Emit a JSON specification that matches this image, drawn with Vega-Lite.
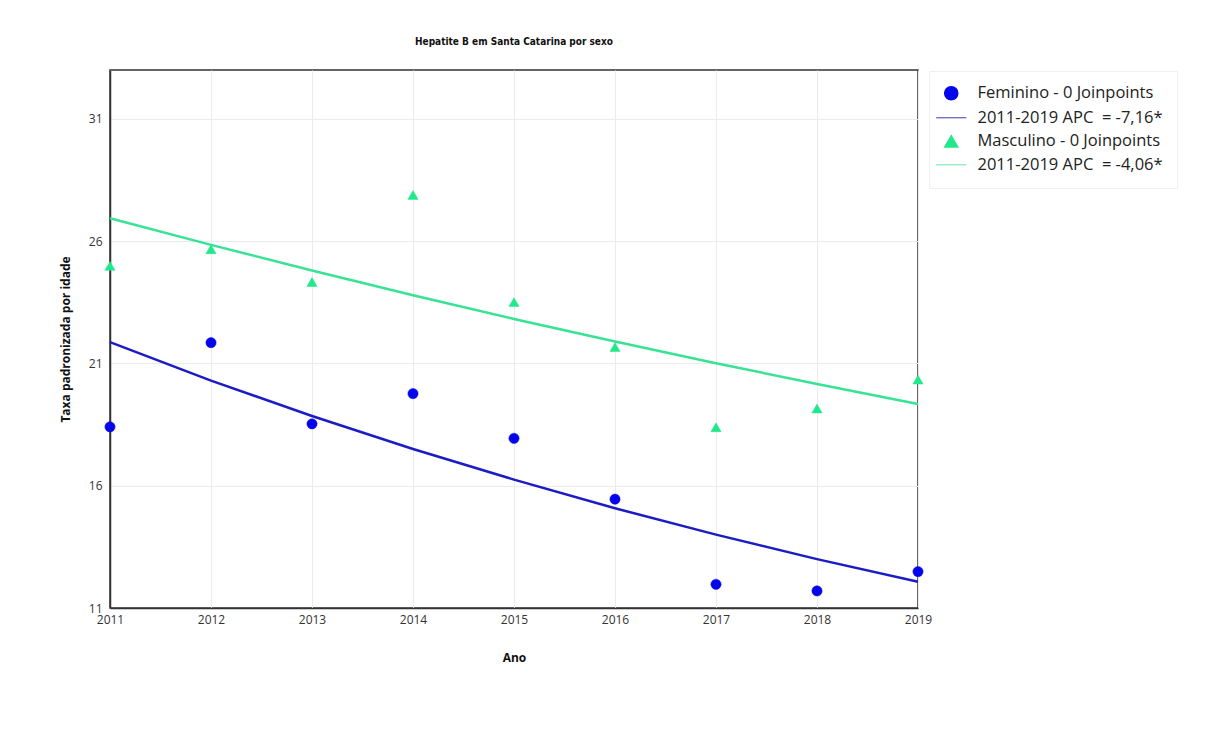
{
  "$schema": "https://vega.github.io/schema/vega-lite/v6.json",
  "autosize": {"type": "none"},
  "width": 808,
  "height": 538,
  "padding": {"left": 110, "top": 70, "right": 301, "bottom": 123},
  "background": "white",
  "title": {
    "text": "Hepatite B em Santa Catarina por sexo",
    "anchor": "middle",
    "font": "DejaVu Sans Condensed, Open Sans",
    "fontSize": 10,
    "fontWeight": "bold",
    "color": "#111",
    "offset": 23
  },
  "config": {
    "font": "Open Sans",
    "view": {"stroke": "#333", "strokeWidth": 1.5},
    "axis": {
      "labelFont": "Open Sans",
      "labelFontSize": 12,
      "labelColor": "#333",
      "titleFont": "Open Sans",
      "titleFontSize": 12,
      "titleFontWeight": "bold",
      "titleColor": "#111",
      "gridColor": "#ebebeb",
      "gridWidth": 1,
      "ticks": false,
      "domainColor": "#333",
      "domainWidth": 1.5
    },
    "legend": {
      "title": null,
      "orient": "none",
      "legendX": 819,
      "legendY": 1,
      "padding": 14,
      "strokeColor": "#f0f0f0",
      "symbolSize": 180,
      "symbolStrokeWidth": 1.2,
      "rowPadding": 6.5,
      "labelOffset": 18,
      "labelFont": "Open Sans",
      "labelFontSize": 16.5,
      "labelColor": "#222",
      "labelLimit": 400
    }
  },
  "layer": [
    {
      "data": {
        "values": [
          {"ano": 2011, "serie": "2011-2019 APC  = -7,16*", "taxa": 21.87},
          {"ano": 2012, "serie": "2011-2019 APC  = -7,16*", "taxa": 20.30},
          {"ano": 2013, "serie": "2011-2019 APC  = -7,16*", "taxa": 18.85},
          {"ano": 2014, "serie": "2011-2019 APC  = -7,16*", "taxa": 17.50},
          {"ano": 2015, "serie": "2011-2019 APC  = -7,16*", "taxa": 16.25},
          {"ano": 2016, "serie": "2011-2019 APC  = -7,16*", "taxa": 15.08},
          {"ano": 2017, "serie": "2011-2019 APC  = -7,16*", "taxa": 14.00},
          {"ano": 2018, "serie": "2011-2019 APC  = -7,16*", "taxa": 13.00},
          {"ano": 2019, "serie": "2011-2019 APC  = -7,16*", "taxa": 12.07},
          {"ano": 2011, "serie": "2011-2019 APC  = -4,06*", "taxa": 26.94},
          {"ano": 2012, "serie": "2011-2019 APC  = -4,06*", "taxa": 25.85},
          {"ano": 2013, "serie": "2011-2019 APC  = -4,06*", "taxa": 24.80},
          {"ano": 2014, "serie": "2011-2019 APC  = -4,06*", "taxa": 23.79},
          {"ano": 2015, "serie": "2011-2019 APC  = -4,06*", "taxa": 22.82},
          {"ano": 2016, "serie": "2011-2019 APC  = -4,06*", "taxa": 21.90},
          {"ano": 2017, "serie": "2011-2019 APC  = -4,06*", "taxa": 21.01},
          {"ano": 2018, "serie": "2011-2019 APC  = -4,06*", "taxa": 20.16},
          {"ano": 2019, "serie": "2011-2019 APC  = -4,06*", "taxa": 19.34}
        ]
      },
      "mark": {"type": "line", "strokeWidth": 2.5},
      "encoding": {
        "x": {
          "field": "ano", "type": "quantitative",
          "scale": {"domain": [2011, 2019], "nice": false, "zero": false},
          "axis": {"values": [2011, 2012, 2013, 2014, 2015, 2016, 2017, 2018, 2019], "format": "d", "title": "Ano", "labelPadding": 6, "titlePadding": 27, "labelFlush": false}
        },
        "y": {
          "field": "taxa", "type": "quantitative",
          "scale": {"domain": [11, 33], "nice": false, "zero": false},
          "axis": {"values": [11, 16, 21, 26, 31], "title": "Taxa padronizada por idade", "labelPadding": 8, "titlePadding": 16}
        },
        "color": {
          "field": "serie", "type": "nominal",
          "scale": {
            "domain": ["2011-2019 APC  = -7,16*", "2011-2019 APC  = -4,06*"],
            "range": ["#1c1cc4", "#38e394"]
          },
          "legend": null
        }
      }
    },
    {
      "data": {
        "values": [
          {"ano": 2011, "serie": "Feminino - 0 Joinpoints", "taxa": 18.41},
          {"ano": 2012, "serie": "Feminino - 0 Joinpoints", "taxa": 21.85},
          {"ano": 2013, "serie": "Feminino - 0 Joinpoints", "taxa": 18.53},
          {"ano": 2014, "serie": "Feminino - 0 Joinpoints", "taxa": 19.77},
          {"ano": 2015, "serie": "Feminino - 0 Joinpoints", "taxa": 17.94},
          {"ano": 2016, "serie": "Feminino - 0 Joinpoints", "taxa": 15.45},
          {"ano": 2017, "serie": "Feminino - 0 Joinpoints", "taxa": 11.97},
          {"ano": 2018, "serie": "Feminino - 0 Joinpoints", "taxa": 11.70},
          {"ano": 2019, "serie": "Feminino - 0 Joinpoints", "taxa": 12.49},
          {"ano": 2011, "serie": "Masculino - 0 Joinpoints", "taxa": 24.99},
          {"ano": 2012, "serie": "Masculino - 0 Joinpoints", "taxa": 25.67},
          {"ano": 2013, "serie": "Masculino - 0 Joinpoints", "taxa": 24.33},
          {"ano": 2014, "serie": "Masculino - 0 Joinpoints", "taxa": 27.89},
          {"ano": 2015, "serie": "Masculino - 0 Joinpoints", "taxa": 23.51},
          {"ano": 2016, "serie": "Masculino - 0 Joinpoints", "taxa": 21.67},
          {"ano": 2017, "serie": "Masculino - 0 Joinpoints", "taxa": 18.39},
          {"ano": 2018, "serie": "Masculino - 0 Joinpoints", "taxa": 19.16},
          {"ano": 2019, "serie": "Masculino - 0 Joinpoints", "taxa": 20.34}
        ]
      },
      "mark": {"type": "point", "filled": true, "size": 105, "opacity": 1, "strokeWidth": 0.5},
      "encoding": {
        "x": {"field": "ano", "type": "quantitative"},
        "y": {"field": "taxa", "type": "quantitative"},
        "fill": {
          "field": "serie", "type": "nominal",
          "scale": {
            "domain": ["Feminino - 0 Joinpoints", "2011-2019 APC  = -7,16*", "Masculino - 0 Joinpoints", "2011-2019 APC  = -4,06*"],
            "range": ["#0505ec", "#5a5ab8", "#22e88c", "#80eabb"]
          },
          "legend": {"labelExpr": "replace(datum.label, 'APC  =', 'APC \u00a0=')"}
        },
        "stroke": {
          "field": "serie", "type": "nominal",
          "scale": {
            "domain": ["Feminino - 0 Joinpoints", "2011-2019 APC  = -7,16*", "Masculino - 0 Joinpoints", "2011-2019 APC  = -4,06*"],
            "range": ["#0505ec", "#5a5ab8", "#22e88c", "#80eabb"]
          },
          "legend": {"labelExpr": "replace(datum.label, 'APC  =', 'APC \u00a0=')"}
        },
        "shape": {
          "field": "serie", "type": "nominal",
          "scale": {
            "domain": ["Feminino - 0 Joinpoints", "2011-2019 APC  = -7,16*", "Masculino - 0 Joinpoints", "2011-2019 APC  = -4,06*"],
            "range": ["circle", "M-2.25,0H2.25", "triangle-up", "M-2.25,0H2.25"]
          },
          "legend": {"labelExpr": "replace(datum.label, 'APC  =', 'APC \u00a0=')"}
        }
      }
    }
  ]
}
